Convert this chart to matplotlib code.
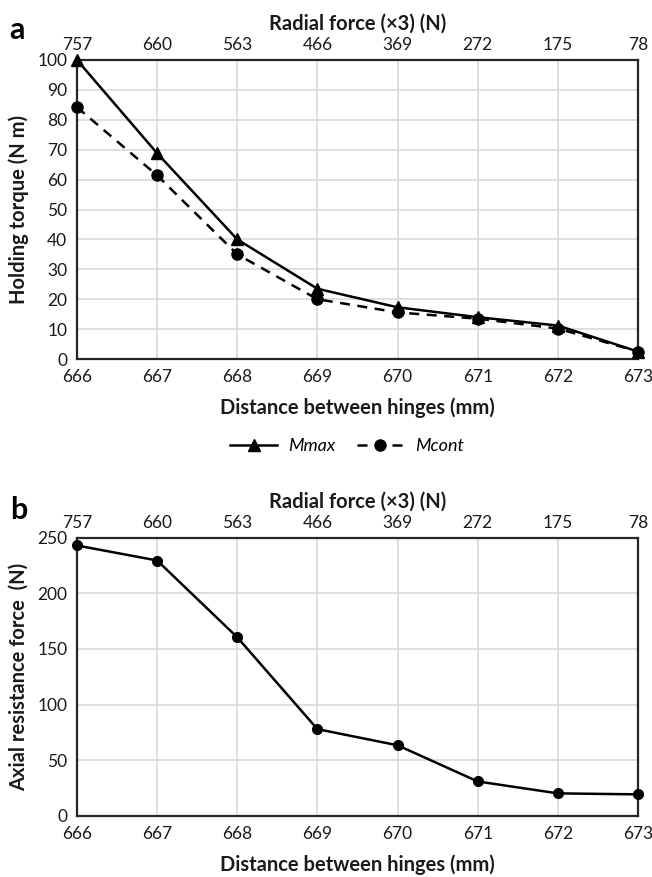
import numpy as np
import matplotlib
matplotlib.use('Agg')
import matplotlib.pyplot as plt

# data
hinge_dist = [666, 667, 668, 669, 670, 671, 672, 673]
radial_force = [757, 660, 563, 466, 369, 272, 175, 78]
m_max = [100, 68.8, 40, 23.5, 17.3, 14.0, 11.2, 2.5]
m_cont = [84.2, 61.4, 35, 20, 15.6, 13.5, 10.2, 2.5]
axial_force = [243, 229.5, 160.5, 78, 63.5, 31, 20.3, 19.4]

matplotlib.rcParams['font.family'] = ['Lato', 'DejaVu Sans']
matplotlib.rcParams['xtick.labelsize'] = 12.5
matplotlib.rcParams['ytick.labelsize'] = 12.5
matplotlib.rcParams['axes.labelsize'] = 14.5
txtc = '#1a1a1a'
gridc = '#d9d9d9'
spc = '#262626'

fig = plt.figure(figsize=(6.52, 8.77), dpi=100)
ax1 = fig.add_axes([0.1181, 0.5906, 0.8604, 0.341])
ax2 = fig.add_axes([0.1181, 0.0696, 0.8604, 0.3173])


def style(ax, ylim, yticks):
    ax.set_xlim(hinge_dist[0], hinge_dist[-1])
    ax.set_ylim(*ylim)
    ax.set_xticks(hinge_dist)
    ax.set_yticks(yticks)
    ax.grid(True, color=gridc, lw=1.2)
    ax.set_axisbelow(True)
    ax.tick_params(length=0, pad=7, colors=txtc)
    for s in ax.spines.values():
        s.set_color(spc)
        s.set_linewidth(1.6)
    ax.set_xlabel('Distance between hinges (mm)', fontweight='bold', labelpad=9, color=txtc)
    top = ax.twiny()
    top.set_xlim(ax.get_xlim())
    top.set_xticks(hinge_dist)
    top.set_xticklabels([str(r) for r in radial_force])
    top.tick_params(length=0, pad=5, colors=txtc)
    for s in top.spines.values():
        s.set_visible(False)
    top.set_xlabel('Radial force (\u00d73) (N)', fontweight='bold', labelpad=5, color=txtc)
    return top


style(ax1, (0, 100), np.arange(0, 101, 10))
ax1.plot(hinge_dist, m_max, '-', color='black', lw=1.8, marker='^', ms=8, clip_on=False, zorder=5, label='Mmax')
ax1.plot(hinge_dist, m_cont, '--', color='black', lw=1.8, marker='o', ms=8, clip_on=False, zorder=5,
         dashes=(4, 3), label='Mcont')
ax1.set_ylabel('Holding torque (N m)', fontweight='bold', labelpad=6, color=txtc)
leg = ax1.legend(loc='center', bbox_to_anchor=(0.532, 0.4914), bbox_transform=fig.transFigure,
                 ncol=2, frameon=False, handlelength=2.6, handletextpad=0.6, columnspacing=1.2,
                 prop={'style': 'italic', 'size': 13})

style(ax2, (0, 250), np.arange(0, 251, 50))
ax2.plot(hinge_dist, axial_force, '-', color='black', lw=1.8, marker='o', ms=7, clip_on=False, zorder=5)
ax2.set_ylabel('Axial resistance force  (N)', fontweight='bold', labelpad=6, color=txtc)

fig.text(0.014, 0.955, 'a', fontsize=22, fontweight='bold')
fig.text(0.016, 0.408, 'b', fontsize=22, fontweight='bold')

fig.savefig('out.png', dpi=100)
